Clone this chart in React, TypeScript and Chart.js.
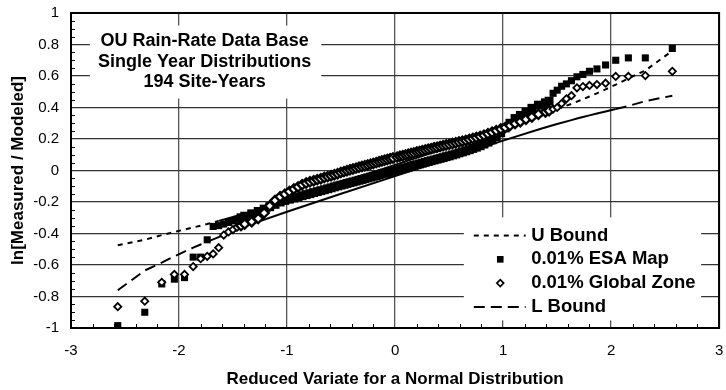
import React, { useEffect, useRef } from 'react';
import { Chart, registerables } from 'chart.js';

Chart.register(...registerables);

const FONT = '"Liberation Sans", Arial, Helvetica, sans-serif';

// Reduced variate (normal quantile) of each plotted site-year
const variate = [
  -2.567, -2.317, -2.160, -2.043, -1.949, -1.869, -1.800, -1.739,
  -1.684, -1.633, -1.586, -1.542, -1.501, -1.463, -1.426, -1.392,
  -1.327, -1.267, -1.212, -1.160, -1.111, -1.064, -1.020, -0.978,
  -0.937, -0.898, -0.860, -0.823, -0.788, -0.753, -0.720, -0.687,
  -0.655, -0.623, -0.592, -0.562, -0.532, -0.502, -0.473, -0.445,
  -0.417, -0.389, -0.361, -0.334, -0.307, -0.280, -0.253, -0.227,
  -0.201, -0.174, -0.148, -0.122, -0.097, -0.071, -0.045, -0.019,
  0.019, 0.045, 0.071, 0.097, 0.122, 0.148, 0.174, 0.201,
  0.227, 0.253, 0.280, 0.307, 0.334, 0.361, 0.389, 0.417,
  0.445, 0.473, 0.502, 0.532, 0.562, 0.592, 0.623, 0.655,
  0.687, 0.720, 0.753, 0.788, 0.823, 0.860, 0.898, 0.937,
  0.978, 1.020, 1.064, 1.111, 1.160, 1.212, 1.267, 1.327,
  1.392, 1.426, 1.463, 1.501, 1.542, 1.586, 1.633, 1.684,
  1.739, 1.800, 1.869, 1.949, 2.043, 2.160, 2.317, 2.567,
];

// 0.01% ESA Map
const esaMap = [
  -0.985, -0.90, -0.72, -0.69, -0.68, -0.55, -0.55, -0.44,
  -0.355, -0.35, -0.34, -0.33, -0.32, -0.31, -0.30, -0.29,
  -0.275, -0.26, -0.245, -0.23, -0.215, -0.20, -0.19, -0.182,
  -0.175, -0.168, -0.16, -0.153, -0.147, -0.14, -0.134, -0.128,
  -0.122, -0.116, -0.11, -0.104, -0.098, -0.093, -0.088, -0.082,
  -0.077, -0.072, -0.067, -0.062, -0.057, -0.052, -0.047, -0.042,
  -0.037, -0.032, -0.027, -0.022, -0.018, -0.013, -0.008, -0.004,
  0.002, 0.007, 0.012, 0.017, 0.022, 0.027, 0.032, 0.037,
  0.042, 0.047, 0.052, 0.057, 0.062, 0.067, 0.072, 0.077,
  0.082, 0.088, 0.093, 0.099, 0.105, 0.112, 0.118, 0.125,
  0.132, 0.14, 0.148, 0.157, 0.168, 0.18, 0.195, 0.215,
  0.24, 0.27, 0.30, 0.33, 0.35, 0.37, 0.395, 0.415,
  0.43, 0.44, 0.49, 0.51, 0.535, 0.55, 0.57, 0.595,
  0.61, 0.63, 0.645, 0.67, 0.70, 0.715, 0.715, 0.775,
];

// 0.01% Global Zone
const globalZone = [
  -0.865, -0.83, -0.71, -0.66, -0.66, -0.61, -0.56, -0.545,
  -0.53, -0.49, -0.41, -0.39, -0.375, -0.36, -0.35, -0.34,
  -0.325, -0.305, -0.27, -0.225, -0.19, -0.167, -0.15, -0.133,
  -0.118, -0.104, -0.09, -0.08, -0.072, -0.065, -0.058, -0.052,
  -0.045, -0.039, -0.033, -0.027, -0.02, -0.013, -0.007, -0.001,
  0.005, 0.01, 0.015, 0.02, 0.025, 0.03, 0.035, 0.04,
  0.045, 0.05, 0.055, 0.06, 0.065, 0.07, 0.075, 0.08,
  0.085, 0.09, 0.094, 0.099, 0.103, 0.108, 0.112, 0.117,
  0.121, 0.126, 0.13, 0.135, 0.139, 0.144, 0.148, 0.153,
  0.157, 0.162, 0.166, 0.171, 0.176, 0.181, 0.186, 0.191,
  0.197, 0.203, 0.209, 0.216, 0.224, 0.233, 0.243, 0.253,
  0.263, 0.273, 0.285, 0.298, 0.31, 0.325, 0.34, 0.357,
  0.372, 0.38, 0.39, 0.40, 0.425, 0.455, 0.475, 0.525,
  0.533, 0.54, 0.546, 0.554, 0.597, 0.597, 0.603, 0.63,
];

// Bounds
const boundVariate = [
  -2.567, -2.317, -2.160, -2.043, -1.949, -1.869, -1.800, -1.739, -1.684, -1.633,
  -1.50, -1.35, -1.0, -0.5, 0, 0.5, 1.0, 1.35, 1.50,
  1.633, 1.684, 1.739, 1.800, 1.869, 1.949, 2.043, 2.160, 2.317, 2.567,
];
const uBound = [
  -0.475, -0.44, -0.41, -0.39, -0.375, -0.362, -0.35, -0.34, -0.33, -0.32,
  -0.295, -0.265, -0.19, -0.076, 0.036, 0.148, 0.262, 0.345, 0.39,
  0.423, 0.437, 0.452, 0.47, 0.49, 0.515, 0.545, 0.585, 0.635, 0.76,
];
const lBound = [
  -0.76, -0.635, -0.585, -0.545, -0.515, -0.49, -0.47, -0.452, -0.437, -0.423,
  -0.39, -0.345, -0.262, -0.148, -0.036, 0.076, 0.19, 0.265, 0.295,
  0.32, 0.33, 0.34, 0.35, 0.362, 0.375, 0.39, 0.41, 0.44, 0.475,
];

const xTickLabels = ['-3', '-2', '-1', '0', '1', '2', '3'];
const yTickLabels = ['-1', '-0.8', '-0.6', '-0.4', '-0.2', '0', '0.2', '0.4', '0.6', '0.8', '1'];
const annotationLines = ['OU Rain-Rate Data Base', 'Single Year Distributions', '194 Site-Years'];
const legendLabels = ['U Bound', '0.01% ESA Map', '0.01% Global Zone', 'L Bound'];
const xTitle = 'Reduced Variate for a Normal Distribution';
const yTitle = 'ln[Measured / Modeled]';

const U_DASH = [5, 5];
const L_DASH = [11, 6];

// markers overlap into a thick band where site-years are dense
const isDense = (c: any) => {
  const r = c.raw;
  return r && Math.abs(r.x) < 1.44;
};

const zeroPadding = (s: any) => {
  s.paddingTop = 0;
  s.paddingBottom = 0;
  s.paddingLeft = 0;
  s.paddingRight = 0;
};

const decor = {
  id: 'decor',
  beforeDatasetsDraw(chart: any) {
    const { ctx, chartArea: a, scales } = chart;
    const sx = scales.x;
    const sy = scales.y;
    const px = (v: number) => sx.getPixelForValue(v);
    const py = (v: number) => sy.getPixelForValue(v);
    ctx.save();

    // white text boxes
    ctx.fillStyle = '#fff';
    const box = (x0: number, x1: number, y0: number, y1: number) => {
      ctx.fillRect(px(x0), py(y0), px(x1) - px(x0), py(y1) - py(y0));
    };
    box(-2.825, -0.683, 0.92, 0.457);
    box(0.637, 2.834, -0.298, -0.952);

    // minor ticks
    ctx.strokeStyle = '#000';
    ctx.lineWidth = 1;
    ctx.beginPath();
    for (let k = -15; k <= 15; k++) {
      if (k % 5 === 0) continue;
      const x = Math.round(px(k * 0.2)) + 0.5;
      ctx.moveTo(x, a.bottom);
      ctx.lineTo(x, a.bottom - 4);
    }
    for (let k = -20; k <= 20; k++) {
      if (k % 4 === 0) continue;
      const y = Math.round(py(k * 0.05)) + 0.5;
      ctx.moveTo(a.left, y);
      ctx.lineTo(a.left + 4, y);
    }
    ctx.stroke();

    // frame
    ctx.lineWidth = 2;
    ctx.strokeRect(a.left, a.top, a.right - a.left, a.bottom - a.top);

    // annotation
    ctx.fillStyle = '#000';
    ctx.font = `bold 18px ${FONT}`;
    ctx.textAlign = 'center';
    ctx.textBaseline = 'middle';
    annotationLines.forEach((t, i) => {
      ctx.fillText(t, px(-1.763), py(0.819 - i * 0.13));
    });

    // legend
    ctx.font = `bold 18.5px ${FONT}`;
    const rowY = (i: number) => py(-0.413 - i * 0.151);
    const x0 = px(0.729);
    const x1 = px(1.209);
    const xm = px(0.974);
    ctx.textAlign = 'left';
    legendLabels.forEach((t, i) => {
      const y = rowY(i);
      ctx.fillStyle = '#000';
      ctx.fillText(t, px(1.26), y);
      if (i === 0 || i === 3) {
        ctx.beginPath();
        ctx.setLineDash(i === 0 ? U_DASH : L_DASH);
        ctx.lineWidth = 2;
        ctx.moveTo(x0, y);
        ctx.lineTo(x1, y);
        ctx.stroke();
        ctx.setLineDash([]);
      } else if (i === 1) {
        ctx.fillRect(xm - 3.3, y - 3.3, 6.6, 6.6);
      } else {
        ctx.beginPath();
        ctx.moveTo(xm - 3.4, y);
        ctx.lineTo(xm, y - 3.4);
        ctx.lineTo(xm + 3.4, y);
        ctx.lineTo(xm, y + 3.4);
        ctx.closePath();
        ctx.fillStyle = '#fff';
        ctx.fill();
        ctx.lineWidth = 1.7;
        ctx.stroke();
      }
    });
    ctx.restore();
  },
};

export default function App() {
  const ref = useRef<HTMLCanvasElement>(null);
  useEffect(() => {
    document.body.style.margin = '0';
    const canvas = ref.current!;
    const chart = new Chart(canvas, {
      type: 'scatter',
      data: {
        datasets: [
          {
            label: legendLabels[0],
            data: boundVariate.map((x, i) => ({ x, y: uBound[i] })),
            showLine: true,
            borderColor: '#000',
            borderWidth: 2,
            pointRadius: 0,
            borderDash: U_DASH,
            segment: {
              borderDash: (c: any) => (c.p0.parsed.x >= -1.64 && c.p1.parsed.x <= 1.5 ? [] : U_DASH),
            },
            order: 3,
          } as any,
          {
            label: legendLabels[1],
            data: variate.map((x, i) => ({ x, y: esaMap[i] })),
            pointStyle: 'rect',
            pointRadius: (c: any) => (isDense(c) ? 6.3 : 5),
            backgroundColor: '#000',
            borderColor: '#000',
            borderWidth: 0,
            order: 2,
          },
          {
            label: legendLabels[2],
            data: variate.map((x, i) => ({ x, y: globalZone[i] })),
            pointStyle: 'rectRot',
            pointRadius: (c: any) => (isDense(c) ? 4.6 : 3.6),
            backgroundColor: '#fff',
            borderColor: '#000',
            borderWidth: (c: any) => (isDense(c) ? 2.3 : 1.8),
            order: 1,
          },
          {
            label: legendLabels[3],
            data: boundVariate.map((x, i) => ({ x, y: lBound[i] })),
            showLine: true,
            borderColor: '#000',
            borderWidth: 2,
            pointRadius: 0,
            borderDash: L_DASH,
            segment: {
              borderDash: (c: any) => (c.p0.parsed.x >= -1.74 && c.p1.parsed.x <= 2.05 ? [] : L_DASH),
            },
            order: 4,
          } as any,
        ],
      },
      options: {
        animation: false,
        responsive: false,
        events: [],
        layout: { padding: { top: 13, right: 5, left: 0, bottom: 0 } },
        plugins: { legend: { display: false }, tooltip: { enabled: false } },
        scales: {
          x: {
            type: 'linear',
            min: -3,
            max: 3,
            afterFit: (s: any) => { s.height = 62; zeroPadding(s); },
            ticks: {
              stepSize: 1,
              font: { family: FONT, size: 15 },
              color: '#000',
              padding: 14,
              callback: (_v: any, i: number) => xTickLabels[i],
            },
            grid: { color: '#555', lineWidth: 1.3, drawTicks: false },
            border: { display: false },
            title: {
              display: true,
              text: xTitle,
              font: { family: FONT, size: 17, weight: 'bold' },
              color: '#000',
              padding: { top: 0, bottom: 0 },
            },
          },
          y: {
            type: 'linear',
            min: -1,
            max: 1,
            afterFit: (s: any) => { s.width = 71; zeroPadding(s); },
            ticks: {
              stepSize: 0.2,
              font: { family: FONT, size: 15 },
              color: '#000',
              padding: 12,
              callback: (_v: any, i: number) => yTickLabels[i],
            },
            grid: { color: '#333', lineWidth: 1.3, drawTicks: false },
            border: { display: false },
            title: {
              display: true,
              text: yTitle,
              font: { family: FONT, size: 17, weight: 'bold' },
              color: '#000',
              padding: { top: 8, bottom: 0 },
            },
          },
        },
      } as any,
      plugins: [decor],
    });
    return () => chart.destroy();
  }, []);
  return (
    <div style={{ width: 726, height: 390 }}>
      <canvas ref={ref} width={726} height={390} />
    </div>
  );
}
